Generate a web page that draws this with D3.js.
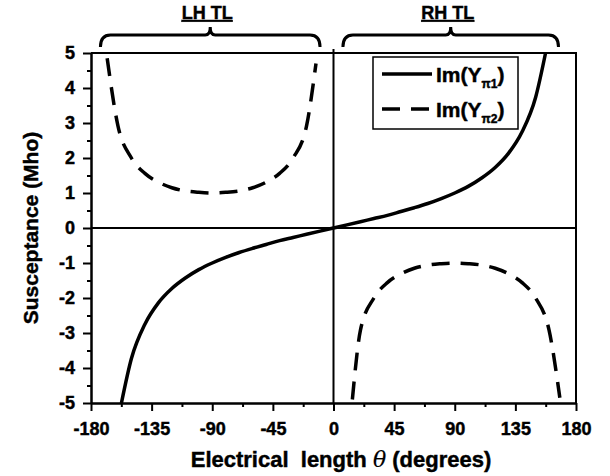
<!DOCTYPE html>
<html>
<head>
<meta charset="utf-8">
<script src="https://cdn.jsdelivr.net/npm/d3@7"></script>
<style>
  html, body { margin: 0; padding: 0; background: #fff; }
  svg { display: block; font-family: "Liberation Sans", Arial, sans-serif; font-weight: bold; }
  svg text { stroke: #000; stroke-width: 0.45px; }
  svg tspan.greek { font-family: "DejaVu Serif", serif; font-style: italic; font-weight: normal; stroke-width: 0.2px; }
</style>
</head>
<body>
<svg id="chart" width="610" height="476"></svg>
<script>
// Electrical length (degrees) vs. susceptance (Mho)
const thetaSolid = [-157.4, -150, -140, -130, -120, -110, -100, -90, -80, -70, -60, -50, -40, -30, -20, -10, 0,
                    10, 20, 30, 40, 50, 60, 70, 80, 90, 100, 110, 120, 130, 140, 150, 157.4];
const imY1 = [-5.0, -3.73, -2.75, -2.14, -1.73, -1.43, -1.19, -1.0, -0.84, -0.70, -0.58, -0.47, -0.36, -0.27, -0.18, -0.09, 0,
              0.09, 0.18, 0.27, 0.36, 0.47, 0.58, 0.70, 0.84, 1.0, 1.19, 1.43, 1.73, 2.14, 2.75, 3.73, 5.0];

const thetaDashLeft = [-168, -160, -150, -140, -130, -120, -110, -100, -90, -80, -70, -60, -50, -40, -30, -20, -13];
const imY2Left = [4.85, 2.92, 2.0, 1.56, 1.31, 1.15, 1.06, 1.02, 1.0, 1.02, 1.06, 1.15, 1.31, 1.56, 2.0, 2.92, 4.7];

const thetaDashRight = [14, 20, 30, 40, 50, 60, 70, 80, 90, 100, 110, 120, 130, 140, 150, 160, 168];
const imY2Right = [-4.9, -2.92, -2.0, -1.56, -1.31, -1.15, -1.06, -1.02, -1.0, -1.02, -1.06, -1.15, -1.31, -1.56, -2.0, -2.92, -4.85];

const xTicks = [-180, -135, -90, -45, 0, 45, 90, 135, 180];
const xMinor = [-157.5, -112.5, -67.5, -22.5, 22.5, 67.5, 112.5, 157.5];
const yTicks = [-5, -4, -3, -2, -1, 0, 1, 2, 3, 4, 5];
const yMinor = [-4.5, -3.5, -2.5, -1.5, -0.5, 0.5, 1.5, 2.5, 3.5, 4.5];

const regionLabels = ["LH TL", "RH TL"];
const regionSpans = [[-173, -10], [7, 167]];

const svg = d3.select("#chart");
const plotLeft = 91, plotRight = 576, plotTop = 53, plotBottom = 403;

const x = d3.scaleLinear().domain([-180, 180]).range([plotLeft, plotRight]);
const y = d3.scaleLinear().domain([-5, 5]).range([plotBottom, plotTop]);

// Axes
const axisStroke = 2;
const plainNumber = d => String(d);
function styleAxis(g) {
  g.select(".domain").attr("stroke", "#000").attr("stroke-width", axisStroke);
  g.selectAll(".tick line").attr("stroke", "#000").attr("stroke-width", axisStroke);
  g.selectAll(".tick text").attr("fill", "#000").attr("font-size", 18).attr("font-weight", "bold")
    .attr("font-family", "'Liberation Sans', Arial, sans-serif");
}

svg.append("g").attr("transform", `translate(${plotLeft},0)`)
  .call(d3.axisLeft(y).tickValues(yTicks).tickSize(8).tickSizeOuter(0).tickPadding(8).tickFormat(plainNumber))
  .call(styleAxis);
svg.append("g").attr("transform", `translate(${plotLeft},0)`)
  .call(d3.axisLeft(y).tickValues(yMinor).tickSize(4).tickSizeOuter(0).tickFormat(""))
  .call(styleAxis);

svg.append("g").attr("transform", `translate(0,${plotBottom})`)
  .call(d3.axisBottom(x).tickValues(xTicks).tickSize(8).tickSizeOuter(0).tickPadding(11).tickFormat(plainNumber))
  .call(styleAxis);
svg.append("g").attr("transform", `translate(0,${plotBottom})`)
  .call(d3.axisBottom(x).tickValues(xMinor).tickSize(4).tickSizeOuter(0).tickFormat(""))
  .call(styleAxis);

// Top and right frame
svg.append("line").attr("x1", plotLeft).attr("x2", plotRight + 1).attr("y1", plotTop).attr("y2", plotTop)
  .attr("stroke", "#000").attr("stroke-width", axisStroke);
svg.append("line").attr("x1", plotRight).attr("x2", plotRight).attr("y1", plotTop).attr("y2", plotBottom)
  .attr("stroke", "#000").attr("stroke-width", axisStroke);

// Zero lines
svg.append("line").attr("x1", plotLeft).attr("x2", plotRight).attr("y1", y(0)).attr("y2", y(0))
  .attr("stroke", "#000").attr("stroke-width", 2);
svg.append("line").attr("x1", x(0)).attr("x2", x(0)).attr("y1", plotTop - 4).attr("y2", plotBottom)
  .attr("stroke", "#000").attr("stroke-width", 2);

// Curves
const line = d3.line().x(d => x(d[0])).y(d => y(d[1])).curve(d3.curveMonotoneX);

svg.append("path").datum(d3.zip(thetaSolid, imY1))
  .attr("d", line).attr("fill", "none").attr("stroke", "#000").attr("stroke-width", 3.5);

[[thetaDashLeft, imY2Left], [thetaDashRight, imY2Right]].forEach(([t, v]) => {
  svg.append("path").datum(d3.zip(t, v))
    .attr("d", line).attr("fill", "none").attr("stroke", "#000").attr("stroke-width", 3.5)
    .attr("stroke-dasharray", "18,11");
});

// Region brackets and labels
regionLabels.forEach((label, i) => {
  const x0 = x(regionSpans[i][0]), x1 = x(regionSpans[i][1]);
  const xm = (x0 + x1) / 2;
  const yb = 35;
  const p = `M${x0},${yb + 12} Q${x0},${yb} ${x0 + 10},${yb} L${xm - 5},${yb} Q${xm},${yb} ${xm},${yb - 8} ` +
            `Q${xm},${yb} ${xm + 5},${yb} L${x1 - 10},${yb} Q${x1},${yb} ${x1},${yb + 12}`;
  svg.append("path").attr("d", p).attr("fill", "none").attr("stroke", "#000").attr("stroke-width", 3);
  svg.append("text").attr("x", xm - 3).attr("y", 19).attr("text-anchor", "middle")
    .attr("font-size", 18).attr("text-decoration", "underline").text(label);
});

// Legend
const lg = svg.append("g");
lg.append("rect").attr("x", 373).attr("y", 57).attr("width", 145).attr("height", 72)
  .attr("fill", "#fff").attr("stroke", "#000").attr("stroke-width", 1.5);
const legendItems = [{sub: "π1", dash: null, yy: 74}, {sub: "π2", dash: "18,11", yy: 109}];
legendItems.forEach(it => {
  lg.append("line").attr("x1", 382).attr("x2", 432).attr("y1", it.yy).attr("y2", it.yy)
    .attr("stroke", "#000").attr("stroke-width", 3.5).attr("stroke-dasharray", it.dash);
  const t = lg.append("text").attr("x", 436).attr("y", it.yy + 8).attr("font-size", 21);
  t.append("tspan").text("Im(Y");
  t.append("tspan").attr("font-size", 12).attr("dy", 6).text(it.sub);
  t.append("tspan").attr("dy", -6).text(")");
});

// Axis titles
svg.append("text").attr("x", 341).attr("y", 467).attr("text-anchor", "middle").attr("font-size", 22)
  .html("Electrical&#160; length <tspan class='greek'>θ</tspan> (degrees)");
svg.append("text").attr("transform", "translate(38,228) rotate(-90)").attr("text-anchor", "middle")
  .attr("font-size", 21).text("Susceptance (Mho)");
</script>
</body>
</html>
